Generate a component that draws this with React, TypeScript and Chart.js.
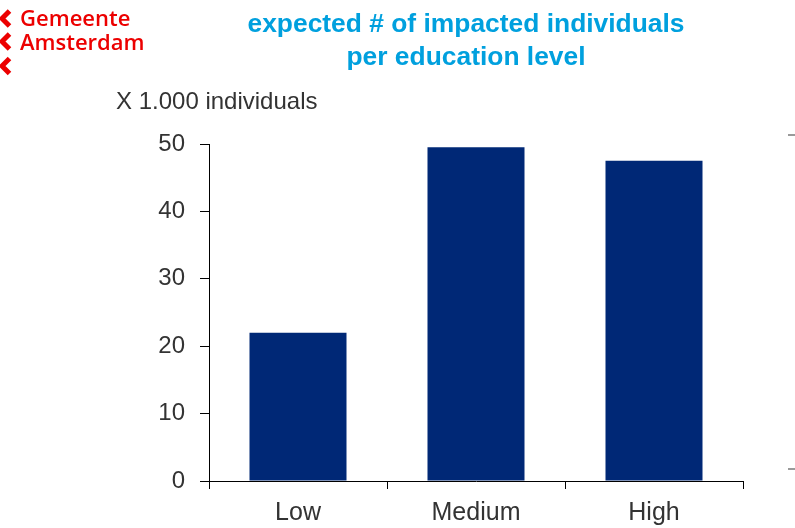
import React, { useEffect, useRef } from "react";
import { Chart, registerables } from "chart.js";

Chart.register(...registerables);

const categories = ["Low", "Medium", "High"];
const impacted = [22, 49.5, 47.5]; // x 1.000 individuals
const yTicks = [0, 10, 20, 30, 40, 50];

const titleLines = ["expected # of impacted individuals", "per education level"];
const unitLabel = "X 1.000 individuals";
const logoLines = ["Gemeente", "Amsterdam"];

const BAR_COLOR = "#002876";
const TITLE_COLOR = "#00A0DE";
const LOGO_RED = "#EC0000";
const TEXT_COLOR = "#333333";
const FONT = "Arial, 'Liberation Sans', sans-serif";

// Header, logo and unit caption drawn on top of the chart canvas
const decorations = {
  id: "decorations",
  afterDraw(chart: Chart) {
    const ctx = chart.ctx;
    ctx.save();

    // Title
    ctx.fillStyle = TITLE_COLOR;
    ctx.font = `bold 26.4px ${FONT}`;
    ctx.textAlign = "center";
    ctx.textBaseline = "alphabetic";
    ctx.fillText(titleLines[0], 466, 32);
    ctx.fillText(titleLines[1], 466, 65);

    // Unit caption above the y axis
    ctx.fillStyle = TEXT_COLOR;
    ctx.font = `24px ${FONT}`;
    ctx.textAlign = "left";
    ctx.fillText(unitLabel, 116, 109);

    // Logo: chevrons and name
    ctx.strokeStyle = LOGO_RED;
    ctx.lineWidth = 5;
    ctx.lineJoin = "miter";
    [18.5, 41.5, 66].forEach((cy) => {
      ctx.beginPath();
      ctx.moveTo(9.5, cy - 7.5);
      ctx.lineTo(2, cy);
      ctx.lineTo(9.5, cy + 7.5);
      ctx.stroke();
    });
    ctx.fillStyle = LOGO_RED;
    ctx.font = `600 22px 'Open Sans', ${FONT}`;
    ctx.fillText(logoLines[0], 20, 26);
    ctx.fillText(logoLines[1], 20, 50);

    // Small grey marks at the right edge
    ctx.fillStyle = "#9a9a9a";
    ctx.fillRect(788, 134, 7, 2);
    ctx.fillRect(788, 468, 7, 2);

    ctx.restore();
  },
};

export default function App() {
  const canvasRef = useRef<HTMLCanvasElement | null>(null);

  useEffect(() => {
    const canvas = canvasRef.current;
    if (!canvas) return;
    const chart = new Chart(canvas, {
      type: "bar",
      data: {
        labels: categories,
        datasets: [
          {
            data: impacted,
            backgroundColor: BAR_COLOR,
            borderWidth: 0,
            categoryPercentage: 1,
            barPercentage: 0.545,
          },
        ],
      },
      options: {
        responsive: false,
        animation: false,
        devicePixelRatio: 1,
        layout: { padding: { top: 144, right: 52, left: 0, bottom: 0 } },
        plugins: {
          legend: { display: false },
          tooltip: { enabled: false },
          title: { display: false },
        },
        scales: {
          x: {
            afterFit: (scale: any) => {
              scale.height = 47;
            },
            grid: {
              display: true,
              drawOnChartArea: false,
              drawTicks: true,
              tickLength: 8,
              color: "#000000",
              lineWidth: 1,
            },
            border: { display: true, color: "#000000", width: 1 },
            ticks: {
              color: TEXT_COLOR,
              font: { family: FONT, size: 25 },
              padding: 9,
            },
          },
          y: {
            min: 0,
            max: 50,
            afterFit: (scale: any) => {
              scale.width = 209;
            },
            afterBuildTicks: (scale: any) => {
              scale.ticks = yTicks.map((v) => ({ value: v }));
            },
            grid: {
              display: true,
              drawOnChartArea: false,
              drawTicks: true,
              tickLength: 9,
              color: "#000000",
              lineWidth: 1,
            },
            border: { display: true, color: "#000000", width: 1 },
            ticks: {
              color: TEXT_COLOR,
              font: { family: FONT, size: 24 },
              padding: 15,
            },
          },
        },
      },
      plugins: [decorations],
    });
    return () => chart.destroy();
  }, []);

  return (
    <div
      style={{
        position: "absolute",
        left: 0,
        top: 0,
        width: 795,
        height: 528,
        background: "#ffffff",
      }}
    >
      <canvas ref={canvasRef} width={795} height={528} />
    </div>
  );
}
